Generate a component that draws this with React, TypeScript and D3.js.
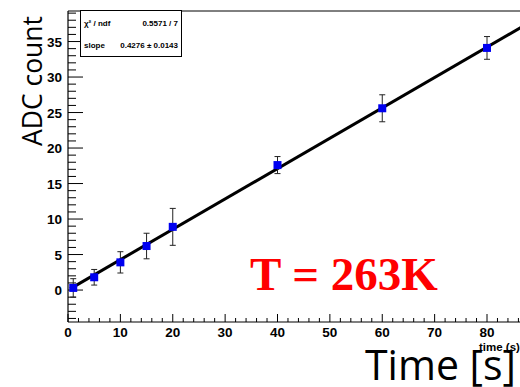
import React, { useRef, useEffect } from 'react';
import { select, scaleLinear, range, line } from 'd3';

// measured points
const times = [1, 5, 10, 15, 20, 40, 60, 80];
const counts = [0.3, 1.8, 3.9, 6.2, 8.9, 17.6, 25.6, 34.1];
const errors = [1.3, 1.1, 1.5, 1.8, 2.6, 1.2, 1.9, 1.6];

// fit result
const slope = 0.4276;
const fitRange = [0.4, 92];
const statLabels = ['χ² / ndf', 'slope'];
const statValues = ['0.5571 / 7', '0.4276 ± 0.0143'];

const xMajor = [0, 10, 20, 30, 40, 50, 60, 70, 80];
const yMajor = [0, 5, 10, 15, 20, 25, 30, 35];

const W = 520;
const H = 387;

const App = () => {
  const svgRef = useRef(null);

  useEffect(() => {
    const svg = select(svgRef.current);
    svg.selectAll('*').remove();

    const x = scaleLinear().domain([0, 90]).range([68, 68 + 90 * 5.2375]);
    const y = scaleLinear().domain([-4.5, 39.3]).range([322, 11]);
    const left = x(0);
    const bottom = y(-4.5);
    const top = y(39.3);

    const g = svg.append('g');

    // frame
    g.append('line').attr('x1', left).attr('x2', W + 5).attr('y1', top).attr('y2', top)
      .attr('stroke', '#000').attr('stroke-width', 1);
    g.append('line').attr('x1', left).attr('x2', left).attr('y1', top).attr('y2', bottom)
      .attr('stroke', '#000').attr('stroke-width', 1.2);
    g.append('line').attr('x1', left).attr('x2', W + 5).attr('y1', bottom).attr('y2', bottom)
      .attr('stroke', '#000').attr('stroke-width', 1.2);

    // y ticks
    const yMinor = range(-4, 40, 1).filter(v => v % 5 !== 0);
    g.selectAll('.ymin').data(yMinor).join('line').attr('class', 'ymin')
      .attr('x1', left).attr('x2', left + 8).attr('y1', d => y(d)).attr('y2', d => y(d))
      .attr('stroke', '#000').attr('stroke-width', 1);
    g.selectAll('.ymaj').data(yMajor).join('line').attr('class', 'ymaj')
      .attr('x1', left).attr('x2', left + 15).attr('y1', d => y(d)).attr('y2', d => y(d))
      .attr('stroke', '#000').attr('stroke-width', 1);
    g.selectAll('.ylab').data(yMajor).join('text').attr('class', 'ylab')
      .attr('x', 62).attr('y', d => y(d) + 5)
      .attr('text-anchor', 'end')
      .attr('font-family', 'Liberation Sans, Arial, sans-serif')
      .attr('font-weight', 'bold').attr('font-size', 13.5)
      .text(d => d);

    // x ticks
    const xMinor = range(0, 92, 2).filter(v => v % 10 !== 0);
    g.selectAll('.xmin').data(xMinor).join('line').attr('class', 'xmin')
      .attr('x1', d => x(d)).attr('x2', d => x(d)).attr('y1', bottom).attr('y2', bottom - 4)
      .attr('stroke', '#000').attr('stroke-width', 1);
    g.selectAll('.xmaj').data(xMajor).join('line').attr('class', 'xmaj')
      .attr('x1', d => x(d)).attr('x2', d => x(d)).attr('y1', bottom).attr('y2', bottom - 8)
      .attr('stroke', '#000').attr('stroke-width', 1);
    g.selectAll('.xlab').data(xMajor).join('text').attr('class', 'xlab')
      .attr('x', d => x(d)).attr('y', 337)
      .attr('text-anchor', 'middle')
      .attr('font-family', 'Liberation Sans, Arial, sans-serif')
      .attr('font-weight', 'bold').attr('font-size', 13.5)
      .text(d => d);

    // fit line
    const fitLine = line()
      .x(d => x(d[0]))
      .y(d => y(d[1]));
    g.append('path')
      .datum(fitRange.map(t => [t, slope * t]))
      .attr('d', fitLine)
      .attr('fill', 'none').attr('stroke', '#000').attr('stroke-width', 3);

    // error bars
    const pts = times.map((t, i) => ({ t, c: counts[i], e: errors[i] }));
    const eb = g.selectAll('.eb').data(pts).join('g').attr('class', 'eb');
    eb.append('line')
      .attr('x1', d => x(d.t)).attr('x2', d => x(d.t))
      .attr('y1', d => y(d.c - d.e)).attr('y2', d => y(d.c + d.e))
      .attr('stroke', '#222').attr('stroke-width', 1);
    eb.append('line')
      .attr('x1', d => x(d.t) - 3).attr('x2', d => x(d.t) + 3)
      .attr('y1', d => y(d.c - d.e)).attr('y2', d => y(d.c - d.e))
      .attr('stroke', '#222').attr('stroke-width', 1);
    eb.append('line')
      .attr('x1', d => x(d.t) - 3).attr('x2', d => x(d.t) + 3)
      .attr('y1', d => y(d.c + d.e)).attr('y2', d => y(d.c + d.e))
      .attr('stroke', '#222').attr('stroke-width', 1);

    // markers
    g.selectAll('.pt').data(pts).join('rect').attr('class', 'pt')
      .attr('x', d => x(d.t) - 4).attr('y', d => y(d.c) - 4)
      .attr('width', 8).attr('height', 8)
      .attr('fill', '#0000f0');

    // stats box
    g.append('rect').attr('x', 80.5).attr('y', 10.5).attr('width', 101).attr('height', 46)
      .attr('fill', '#fff').attr('stroke', '#000').attr('stroke-width', 1);
    g.selectAll('.slab').data(statLabels).join('text').attr('class', 'slab')
      .attr('x', 84).attr('y', (d, i) => 26 + i * 22)
      .attr('font-family', 'Liberation Sans, Arial, sans-serif')
      .attr('font-weight', 'bold').attr('font-size', 8)
      .text(d => d);
    g.selectAll('.sval').data(statValues).join('text').attr('class', 'sval')
      .attr('x', 178).attr('y', (d, i) => 26 + i * 22)
      .attr('text-anchor', 'end')
      .attr('font-family', 'Liberation Sans, Arial, sans-serif')
      .attr('font-weight', 'bold').attr('font-size', 8)
      .text(d => d);

    // annotation
    g.append('text').attr('x', 250).attr('y', 290)
      .attr('font-family', 'Liberation Serif, Times New Roman, serif')
      .attr('font-weight', 'bold').attr('font-size', 47)
      .attr('fill', '#ff0000')
      .text('T = 263K');

    // titles
    g.append('text').attr('x', 479).attr('y', 351)
      .attr('font-family', 'Liberation Sans, Arial, sans-serif')
      .attr('font-weight', 'bold').attr('font-size', 11.5)
      .text('time (s)');
    g.append('text').attr('x', 365).attr('y', 380)
      .attr('font-family', 'Open Sans, sans-serif')
      .attr('font-size', 42)
      .attr('textLength', 151).attr('lengthAdjust', 'spacingAndGlyphs')
      .text('Time [s]');
    g.append('text')
      .attr('transform', 'translate(42, 81) rotate(-90)')
      .attr('text-anchor', 'middle')
      .attr('font-family', 'Open Sans, sans-serif')
      .attr('font-size', 26.5)
      .text('ADC count');
  }, []);

  return (
    <svg
      ref={svgRef}
      width={W}
      height={H}
      style={{ position: 'absolute', left: 0, top: 0, background: '#fff' }}
    />
  );
};

export default App;
